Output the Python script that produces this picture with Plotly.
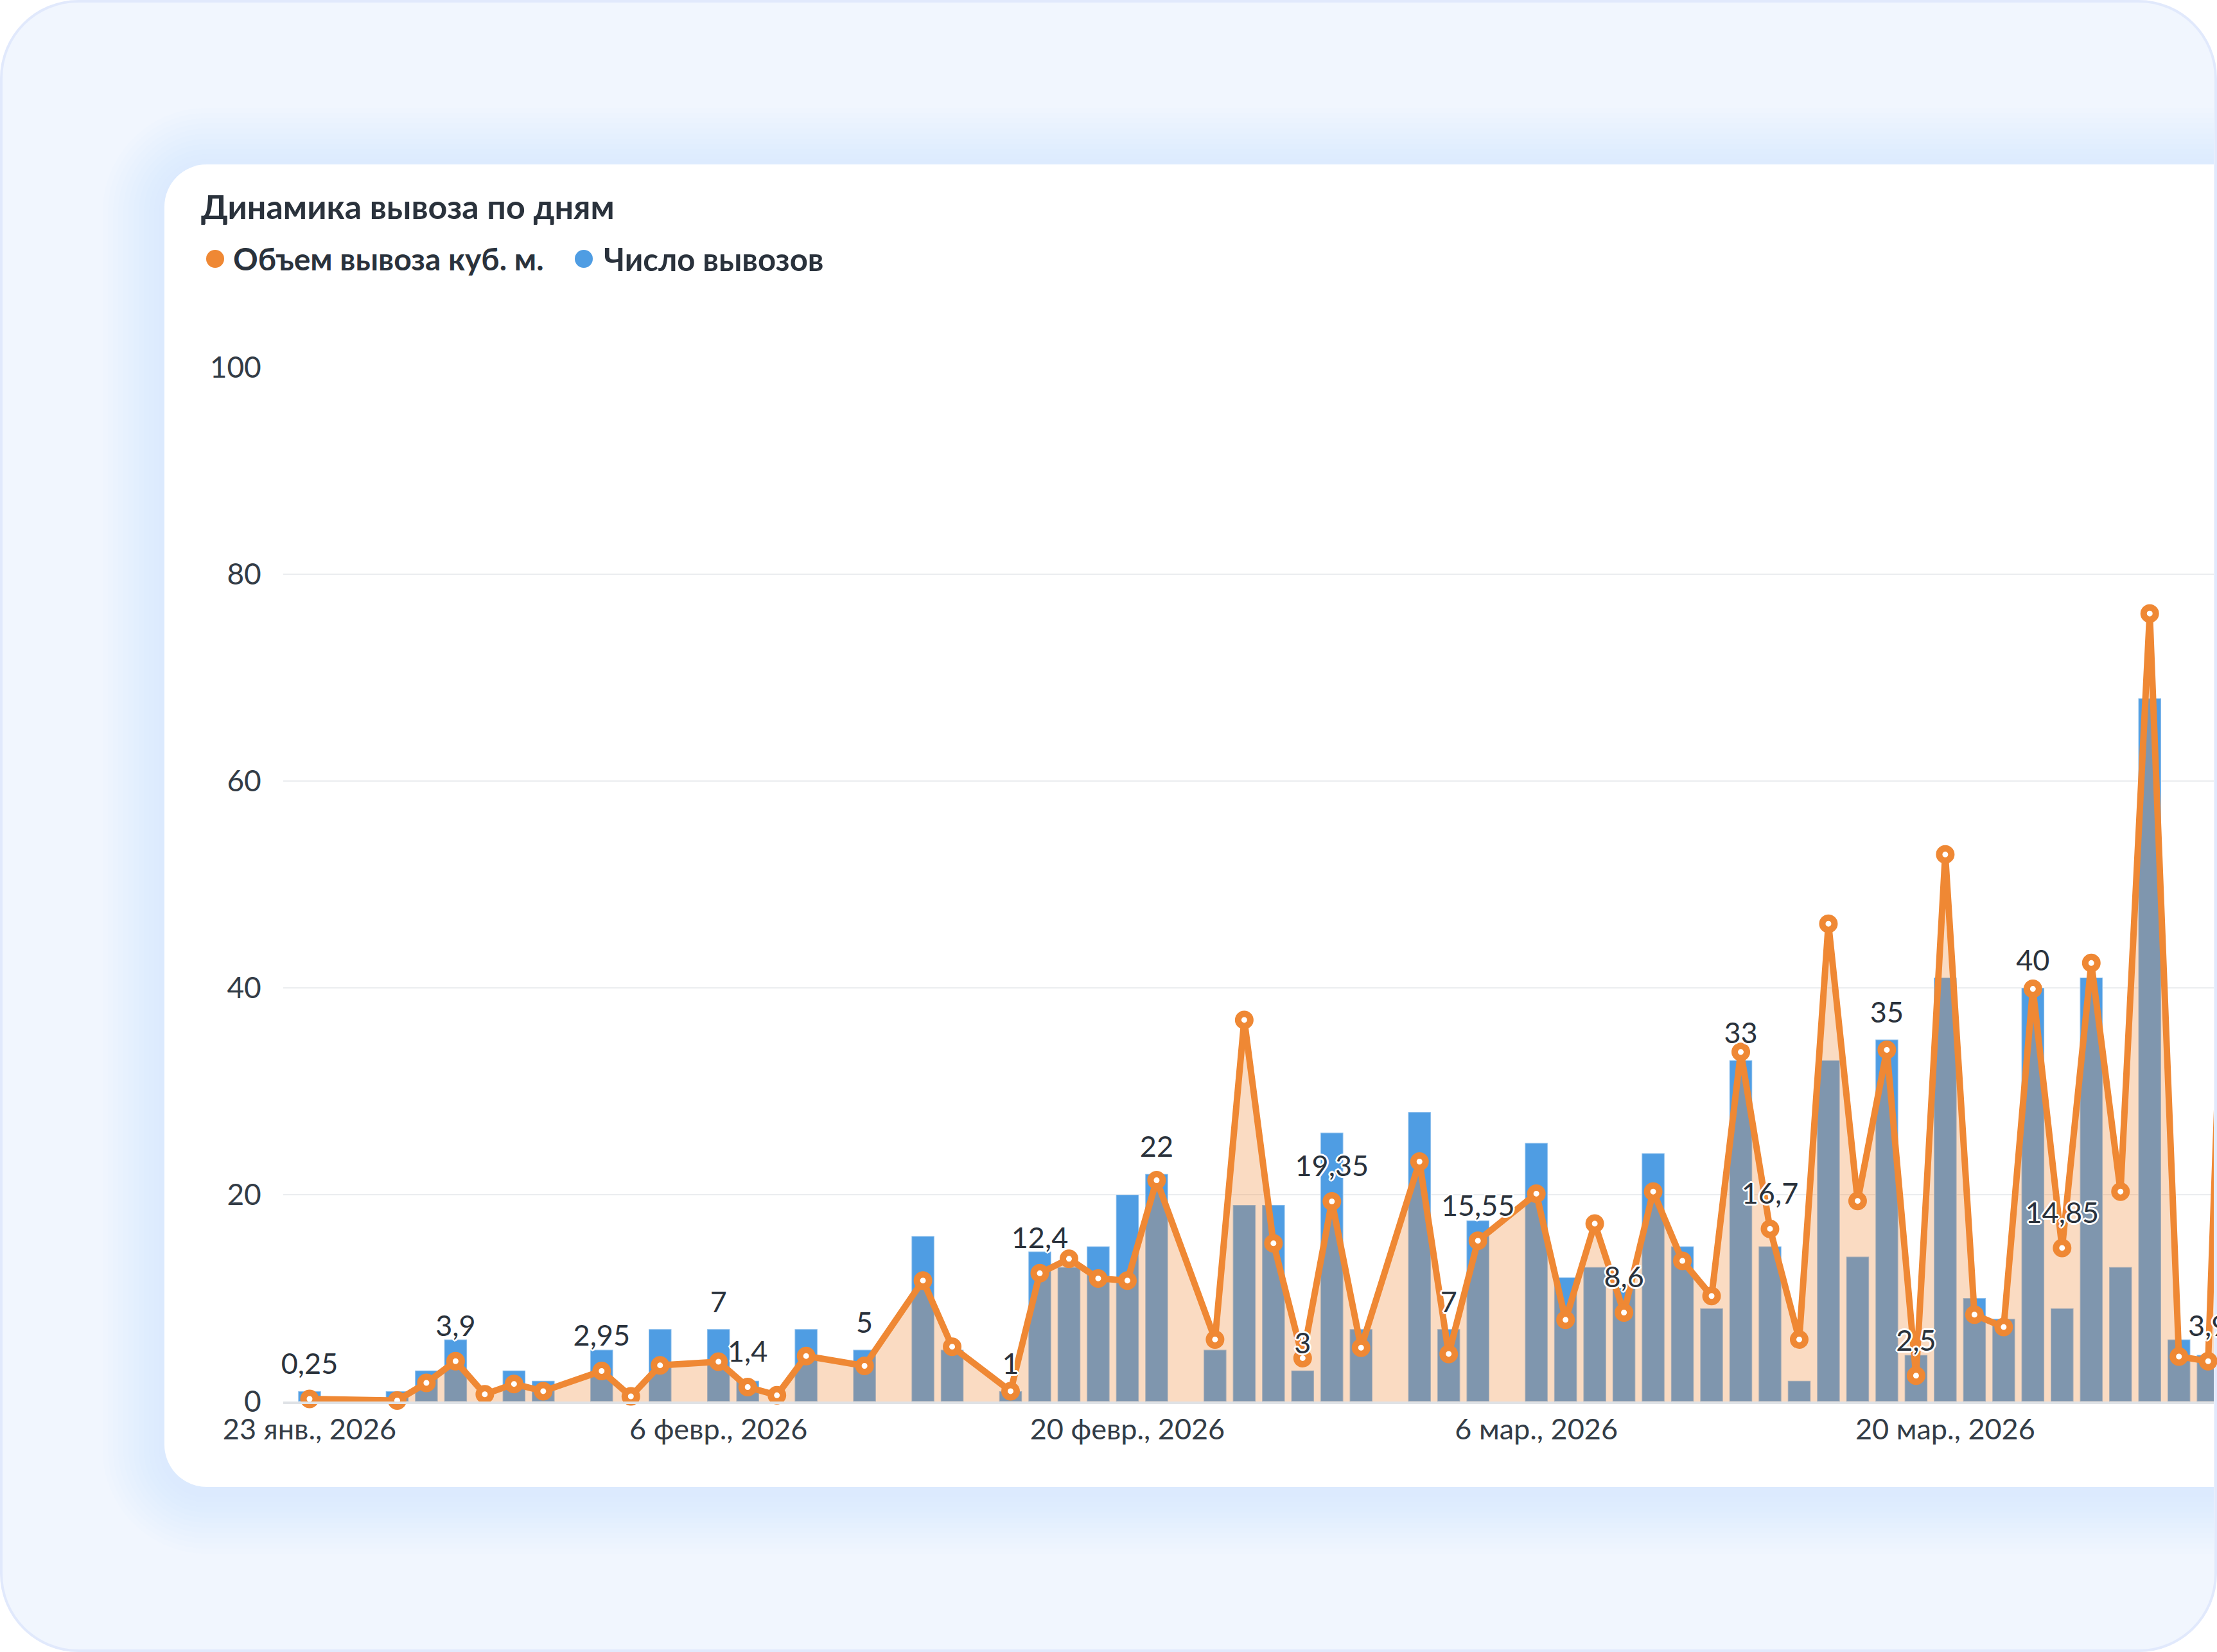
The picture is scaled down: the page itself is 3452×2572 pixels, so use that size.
import plotly.graph_objects as go
from datetime import datetime, timedelta

# ---------------- data ----------------
dates = ["2026-01-23", "2026-01-26", "2026-01-27", "2026-01-28", "2026-01-29", "2026-01-30", "2026-01-31",
         "2026-02-02", "2026-02-03", "2026-02-04", "2026-02-06", "2026-02-07", "2026-02-08", "2026-02-09",
         "2026-02-11", "2026-02-13", "2026-02-14", "2026-02-16", "2026-02-17", "2026-02-18", "2026-02-19",
         "2026-02-20", "2026-02-21", "2026-02-23", "2026-02-24", "2026-02-25", "2026-02-26", "2026-02-27",
         "2026-02-28", "2026-03-02", "2026-03-03", "2026-03-04", "2026-03-06", "2026-03-07", "2026-03-08",
         "2026-03-09", "2026-03-10", "2026-03-11", "2026-03-12", "2026-03-13", "2026-03-14", "2026-03-15",
         "2026-03-16", "2026-03-17", "2026-03-18", "2026-03-19", "2026-03-20", "2026-03-21", "2026-03-22",
         "2026-03-23", "2026-03-24", "2026-03-25", "2026-03-26", "2026-03-27", "2026-03-28", "2026-03-29",
         "2026-03-30"]

volume = [0.25, 0.1, 1.8, 3.9, 0.7, 1.7, 1.0,
          2.95, 0.5, 3.5, 3.85, 1.4, 0.6, 4.4,
          3.45, 11.7, 5.3, 1.0, 12.4, 13.8, 11.9,
          11.7, 21.4, 6.0, 36.9, 15.3, 4.2, 19.35,
          5.2, 23.2, 4.6, 15.55, 20.1, 7.9, 17.2,
          8.6, 20.3, 13.6, 10.2, 33.8, 16.7, 6.0,
          46.2, 19.4, 34.0, 2.5, 52.9, 8.4, 7.2,
          39.9, 14.85, 42.4, 20.3, 76.2, 4.35, 3.9,
          84]

trips = [1, 1, 3, 6, None, 3, 2,
         5, None, 7, 7, 2, None, 7,
         5, 16, 5, 1, 14.5, 13, 15,
         20, 22, 5, 19, 19, 3, 26,
         7, 28, 7, 17.5, 25, 12, 13,
         11, 24, 15, 9, 33, 15, 2,
         33, 14, 35, 4.5, 41, 10, 8,
         40, 9, 41, 13, 68, 6, 4.5,
         None]

volume_label_dates = ["2026-01-23", "2026-01-28", "2026-02-02", "2026-02-07", "2026-02-17", "2026-02-27",
                      "2026-03-04", "2026-03-09", "2026-03-14", "2026-03-19", "2026-03-24", "2026-03-29"]
trips_label_dates = ["2026-02-06", "2026-02-11", "2026-02-16", "2026-02-21", "2026-02-26", "2026-03-03",
                     "2026-03-13", "2026-03-18", "2026-03-23"]

tick_dates = ["2026-01-23", "2026-02-06", "2026-02-20", "2026-03-06", "2026-03-20"]
tick_labels = ["23 янв., 2026", "6 февр., 2026", "20 февр., 2026", "6 мар., 2026", "20 мар., 2026"]
y_ticks = [0, 20, 40, 60, 80, 100]

title_text = "Динамика вывоза по дням"
name_volume = "Объем вывоза куб. м."
name_trips = "Число вывозов"

# ---------------- style ----------------
W, H = 3452, 2572
FONT = "Lato"
TXT = "#2a323c"
ORANGE = "#ef8834"
BLUE = "#4f9de3"
FILL = "rgba(239,136,52,0.30)"
HALO = ("3px 0 0 #fff, -3px 0 0 #fff, 0 3px 0 #fff, 0 -3px 0 #fff, "
        "2px 2px 0 #fff, -2px -2px 0 #fff, 2px -2px 0 #fff, -2px 2px 0 #fff")


def fx(x):
    return x / W


def fy(y):
    return 1 - y / H


def rrect(x0, y0, x1, y1, rtl, rtr, rbr, rbl):
    k = 0.5523
    pts = []
    pts.append(f"M{fx(x0 + rtl)},{fy(y0)}")
    pts.append(f"L{fx(x1 - rtr)},{fy(y0)}")
    if rtr:
        pts.append(f"C{fx(x1 - rtr + k * rtr)},{fy(y0)} {fx(x1)},{fy(y0 + rtr - k * rtr)} {fx(x1)},{fy(y0 + rtr)}")
    pts.append(f"L{fx(x1)},{fy(y1 - rbr)}")
    if rbr:
        pts.append(f"C{fx(x1)},{fy(y1 - rbr + k * rbr)} {fx(x1 - rbr + k * rbr)},{fy(y1)} {fx(x1 - rbr)},{fy(y1)}")
    pts.append(f"L{fx(x0 + rbl)},{fy(y1)}")
    if rbl:
        pts.append(f"C{fx(x0 + rbl - k * rbl)},{fy(y1)} {fx(x0)},{fy(y1 - rbl + k * rbl)} {fx(x0)},{fy(y1 - rbl)}")
    pts.append(f"L{fx(x0)},{fy(y0 + rtl)}")
    if rtl:
        pts.append(f"C{fx(x0)},{fy(y0 + rtl - k * rtl)} {fx(x0 + rtl - k * rtl)},{fy(y0)} {fx(x0 + rtl)},{fy(y0)}")
    pts.append("Z")
    return " ".join(pts)


shapes = []
# outer container
shapes.append(dict(type="path", xref="paper", yref="paper", layer="below",
                   path=rrect(2, 2, 3450, 2570, 120, 120, 120, 120),
                   fillcolor="#f1f6fe", line=dict(color="#e1e9fc", width=4)))
# card shadow (soft glow)
CX0, CY0, CX1, CY1, CR = 256, 256, 3447, 2315, 66
for i in range(12, 0, -1):
    e = i * 8
    shapes.append(dict(type="path", xref="paper", yref="paper", layer="below",
                       path=rrect(CX0 - e, CY0 - e + 8, CX1, CY1 + e + 8, CR + e, 0, 0, CR + e),
                       fillcolor="rgba(200,215,250,0.03)", line=dict(width=0)))
# card
shapes.append(dict(type="path", xref="paper", yref="paper", layer="below",
                   path=rrect(CX0, CY0, CX1, CY1, CR, 0, 0, CR),
                   fillcolor="#ffffff", line=dict(width=0)))
# legend dots
for cx, col in [(335, ORANGE), (909, BLUE)]:
    r = 14
    shapes.append(dict(type="circle", xref="paper", yref="paper", layer="above",
                       x0=fx(cx - r), x1=fx(cx + r), y0=fy(403 + r), y1=fy(403 - r),
                       fillcolor=col, line=dict(width=0)))

annotations = [
    dict(text=title_text, x=fx(311), y=fy(321), xref="paper", yref="paper", xanchor="left", yanchor="middle",
         showarrow=False, font=dict(family=FONT, size=52, color=TXT, weight="bold")),
    dict(text=name_volume, x=fx(361), y=fy(403), xref="paper", yref="paper", xanchor="left", yanchor="middle",
         showarrow=False, font=dict(family=FONT, size=48, color=TXT, weight="bold")),
    dict(text=name_trips, x=fx(938), y=fy(403), xref="paper", yref="paper", xanchor="left", yanchor="middle",
         showarrow=False, font=dict(family=FONT, size=49, color=TXT, weight="bold")),
]


def fmt(v):
    return f"{v:g}".replace(".", ",")


lookup_v = dict(zip(dates, volume))
lookup_t = dict(zip(dates, trips))

fig = go.Figure()
fig.add_trace(go.Bar(x=dates, y=trips, name=name_trips, marker=dict(color=BLUE,
                     line=dict(color="rgba(255,255,255,0.35)", width=2)), hoverinfo="x+y"))
fig.add_trace(go.Scatter(x=dates, y=volume, name=name_volume, mode="lines+markers",
                         line=dict(color=ORANGE, width=10), fill="tozeroy", fillcolor=FILL,
                         marker=dict(symbol="circle", size=19, color="#ffffff",
                                     line=dict(color=ORANGE, width=10)),
                         cliponaxis=False))
fig.add_trace(go.Scatter(x=trips_label_dates, y=[lookup_t[d] for d in trips_label_dates],
                         text=[fmt(lookup_t[d]) for d in trips_label_dates], mode="markers+text",
                         marker=dict(size=23, color="rgba(0,0,0,0)"), textposition="top center",
                         textfont=dict(family=FONT, size=45, color=TXT, shadow=HALO),
                         cliponaxis=False, hoverinfo="skip", showlegend=False))
fig.add_trace(go.Scatter(x=volume_label_dates, y=[lookup_v[d] for d in volume_label_dates],
                         text=[fmt(lookup_v[d]) for d in volume_label_dates], mode="markers+text",
                         marker=dict(size=43, color="rgba(0,0,0,0)"), textposition="top center",
                         textfont=dict(family=FONT, size=45, color=TXT, shadow=HALO),
                         cliponaxis=False, hoverinfo="skip", showlegend=False))

# axis geometry
X_LEFT, X_RIGHT = 441, 3447
X0_PX, PX_PER_DAY = 482, 45.48
day0 = datetime(2026, 1, 23)
r0 = day0 + timedelta(days=(X_LEFT - X0_PX) / PX_PER_DAY)
r1 = day0 + timedelta(days=(X_RIGHT - X0_PX) / PX_PER_DAY)
Y0_PX, Y100_PX = 2182, 572

fig.update_layout(
    width=W, height=H, margin=dict(l=0, r=0, t=0, b=0, autoexpand=False),
    paper_bgcolor="#ffffff", plot_bgcolor="rgba(0,0,0,0)",
    showlegend=False, bargap=0.22,
    shapes=shapes, annotations=annotations,
    font=dict(family=FONT, size=45, color=TXT),
    xaxis=dict(type="date", domain=[fx(X_LEFT), fx(X_RIGHT)], automargin=False,
               range=[r0.isoformat(), r1.isoformat()],
               tickvals=tick_dates, ticktext=tick_labels, showgrid=False,
               ticks="outside", ticklen=1, tickcolor="rgba(0,0,0,0)",
               tickfont=dict(family=FONT, size=45, color="#333c46"),
               showline=True, linecolor="#dfe2e6", linewidth=4, zeroline=False),
    yaxis=dict(domain=[fy(Y0_PX), fy(Y100_PX)], range=[0, 100], tickvals=y_ticks, automargin=False,
               showgrid=True, gridcolor="#ebedef", gridwidth=2, zeroline=False,
               ticks="outside", ticklen=24, tickcolor="rgba(0,0,0,0)",
               tickfont=dict(family=FONT, size=46, color="#333c46"), showline=False),
)

fig.write_html("out.html")
